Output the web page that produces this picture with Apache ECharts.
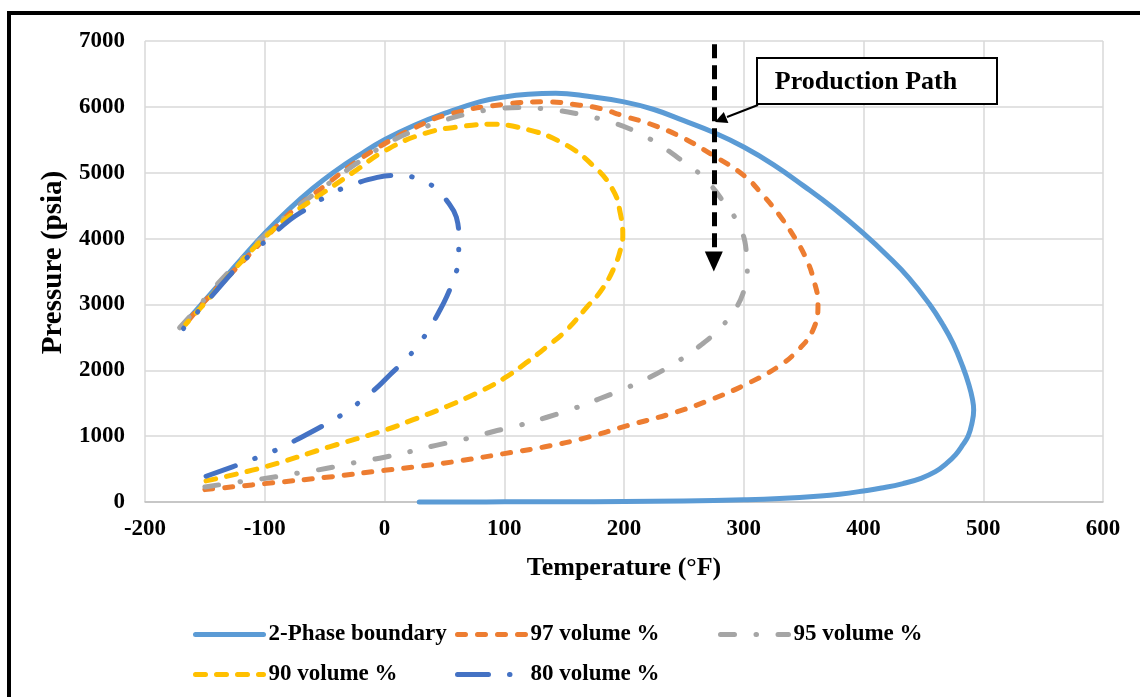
<!DOCTYPE html>
<html>
<head>
<meta charset="utf-8">
<script src="https://cdn.jsdelivr.net/npm/echarts@6/dist/echarts.min.js"></script>
<style>
html,body{margin:0;padding:0;background:#fff;}
#chart{width:1140px;height:697px;}
</style>
</head>
<body>
<div id="chart"></div>
<script>
var xTicks = [-200, 600, 100];
var yTicks = [0, 7000, 1000];
var seriesNames = ['2-Phase boundary', '97 volume %', '95 volume %', '90 volume %', '80 volume %'];

var phaseBoundary = [[-168,2690],[-150,3060],[-135,3370],[-120,3680],[-100,4080],[-80,4440],[-60,4760],[-43,5000],[-20,5280],[0,5500],[25,5720],[50,5900],[80,6080],[100,6150],[120,6190],[143,6205],[170,6160],[200,6075],[225,5960],[250,5790],[275,5610],[300,5390],[325,5120],[350,4800],[375,4460],[400,4080],[420,3740],[438,3400],[455,3006],[466,2700],[475,2400],[483,2050],[488,1780],[491,1560],[492,1397],[490.5,1190],[487.5,1007],[483,870],[477,720],[469,580],[460,460],[448,360],[433,280],[415,212],[400,168],[380,118],[364,90],[330,52],[300,33],[250,16],[200,8],[150,4],[100,2],[29,0]];

var vol97 = [[-167,2680],[-150,3050],[-120,3620],[-100,4000],[-75,4450],[-50,4800],[-25,5150],[0,5440],[25,5680],[52,5880],[100,6040],[135,6076],[163,6025],[180,5975],[200,5860],[222,5740],[247,5550],[272,5290],[300,4960],[315,4680],[330,4350],[343,4000],[352,3700],[358,3400],[362,3010],[358,2620],[345,2300],[328,2046],[303,1797],[272,1550],[239,1340],[203,1160],[167,970],[133,835],[100,735],[65,631],[31,545],[0,481],[-46,380],[-100,279],[-150,188]];

var vol95 = [[-173,2609],[-160,2870],[-140,3300],[-120,3680],[-100,4050],[-75,4450],[-50,4790],[-25,5120],[2,5440],[24,5630],[66,5880],[92,5964],[116,5990],[138,5959],[160,5898],[185,5790],[208,5640],[228,5441],[250,5162],[266,4934],[283,4560],[296,4200],[302,3822],[303,3416],[300,3200],[294,2959],[281,2655],[264,2380],[244,2127],[222,1898],[202,1732],[180,1571],[158,1419],[135,1283],[113,1167],[91,1070],[67,955],[43,860],[21,765],[0,680],[-26,594],[-49,508],[-72,440],[-96,368],[-119,312],[-150,228]];

var vol90 = [[-166,2700],[-150,3020],[-135,3330],[-120,3640],[-100,4020],[-75,4400],[-50,4711],[-25,5020],[0,5330],[33,5594],[66,5706],[88,5736],[116,5670],[147,5467],[174,5112],[191,4731],[197,4376],[199,4050],[198,3900],[192,3569],[181,3213],[169,2960],[152,2610],[135,2350],[118,2110],[100,1880],[80,1680],[52,1450],[24,1250],[0,1090],[-46,838],[-100,533],[-149,320]];

var vol80 = [[-169,2609],[-158,2845],[-138,3259],[-127,3487],[-115,3706],[-102,3919],[-79,4284],[-65,4452],[-50,4624],[-35,4761],[-6,4929],[11,4960],[28,4909],[42,4772],[53,4550],[60,4325],[62,4005],[62,3690],[58,3401],[52,3120],[45,2870],[37,2620],[28,2380],[17,2150],[5,1940],[-5,1760],[-18,1560],[-32,1370],[-47,1203],[-74,939],[-89,802],[-105,685],[-121,574],[-149,391]];

var productionPath = [[275, 6950], [275, 3650]];
var calloutText = 'Production Path';

var FONT = 'Liberation Serif';
var chart = echarts.init(document.getElementById('chart'), null, {renderer: 'canvas'});

// dashed quality lines are drawn starting from their low-pressure end (as in the original)
function mkSeries(name, data, color, width, dash, z, fromEnd) {
  var pts = fromEnd ? data.slice().reverse() : data;
  return {
    name: name, type: 'line', data: pts, smooth: 0.45, showSymbol: false, symbol: 'none',
    clip: false, z: z, animation: false,
    lineStyle: {color: color, width: width, type: dash, cap: 'round', join: 'round'},
    itemStyle: {color: color},
    emphasis: {disabled: true}
  };
}

var series = [
  mkSeries(seriesNames[0], phaseBoundary, '#5B9BD5', 5, 'solid', 2, false),
  mkSeries(seriesNames[1], vol97, '#ED7D31', 5, [8, 12], 3, true),
  mkSeries(seriesNames[2], vol95, '#A5A5A5', 5, [14, 21.5, 0.5, 21.5], 4, true),
  mkSeries(seriesNames[3], vol90, '#FFC000', 5, [10, 11], 5, true),
  mkSeries(seriesNames[4], vol80, '#4472C4', 5, [31, 21, 0.5, 21, 0.5, 21], 6, true)
];
series[4].markLine = {
  silent: true, animation: false,
  symbol: ['none', 'triangle'], symbolSize: [18, 20],
  label: {show: false},
  lineStyle: {color: '#000', width: 5, type: [14, 7], cap: 'butt'},
  itemStyle: {color: '#000'},
  data: [[{coord: productionPath[0]}, {coord: productionPath[1]}]]
};

function legendAt(name, left, top) {
  return {
    data: [name], left: left, top: top, orient: 'horizontal',
    itemWidth: 68, itemHeight: 14, itemGap: 0, selectedMode: false,
    itemStyle: {opacity: 0},
    lineStyle: {width: 5},
    textStyle: {fontFamily: FONT, fontWeight: 'bold', fontSize: 23, color: '#000'}
  };
}

var option = {
  backgroundColor: '#fff',
  animation: false,
  grid: {left: 145, right: 37, top: 41, bottom: 195, containLabel: false},
  xAxis: {
    type: 'value', min: xTicks[0], max: xTicks[1], interval: xTicks[2],
    name: 'Temperature (°F)', nameLocation: 'middle', nameGap: 53,
    nameTextStyle: {fontFamily: FONT, fontWeight: 'bold', fontSize: 26, color: '#000'},
    axisLine: {show: true, onZero: false, lineStyle: {color: '#BFBFBF', width: 1.5}},
    axisTick: {show: false},
    axisLabel: {fontFamily: FONT, fontWeight: 'bold', fontSize: 23, color: '#000', margin: 16,
                formatter: function (v) { return String(v); }},
    splitLine: {show: true, lineStyle: {color: '#D9D9D9', width: 1.5}}
  },
  yAxis: {
    type: 'value', min: yTicks[0], max: yTicks[1], interval: yTicks[2],
    name: 'Pressure (psia)', nameLocation: 'middle', nameGap: 74,
    nameTextStyle: {fontFamily: FONT, fontWeight: 'bold', fontSize: 29, color: '#000', padding: [0, 0, 0, 18]},
    axisLine: {show: false},
    axisTick: {show: false},
    axisLabel: {fontFamily: FONT, fontWeight: 'bold', fontSize: 23, color: '#000', margin: 20,
                formatter: function (v) { return String(v); }},
    splitLine: {show: true, lineStyle: {color: '#D9D9D9', width: 1.5}}
  },
  legend: [
    legendAt(seriesNames[0], 188, 618),
    legendAt(seriesNames[1], 450, 618),
    legendAt(seriesNames[2], 713, 618),
    legendAt(seriesNames[3], 188, 658),
    legendAt(seriesNames[4], 450, 658)
  ],
  series: series,
  graphic: [
    {type: 'rect', silent: true, z: 100, shape: {x: 9, y: 13, width: 1200, height: 800},
     style: {fill: 'none', stroke: '#000', lineWidth: 4}},
    {type: 'line', silent: true, z: 100, shape: {x1: 758, y1: 105, x2: 727, y2: 117},
     style: {stroke: '#000', lineWidth: 2}},
    {type: 'polygon', silent: true, z: 100, shape: {points: [[715, 122], [728.4, 122.9], [723.8, 111.9]]},
     style: {fill: '#000'}},
    {type: 'rect', silent: true, z: 100, shape: {x: 757, y: 58, width: 240, height: 46},
     style: {fill: '#fff', stroke: '#000', lineWidth: 2}},
    {type: 'text', silent: true, z: 101, x: 866, y: 82,
     style: {text: calloutText, fontFamily: FONT, fontWeight: 'bold', fontSize: 26, fill: '#000',
             textAlign: 'center', textVerticalAlign: 'middle', verticalAlign: 'middle'}}
  ]
};
chart.setOption(option);
</script>
</body>
</html>
